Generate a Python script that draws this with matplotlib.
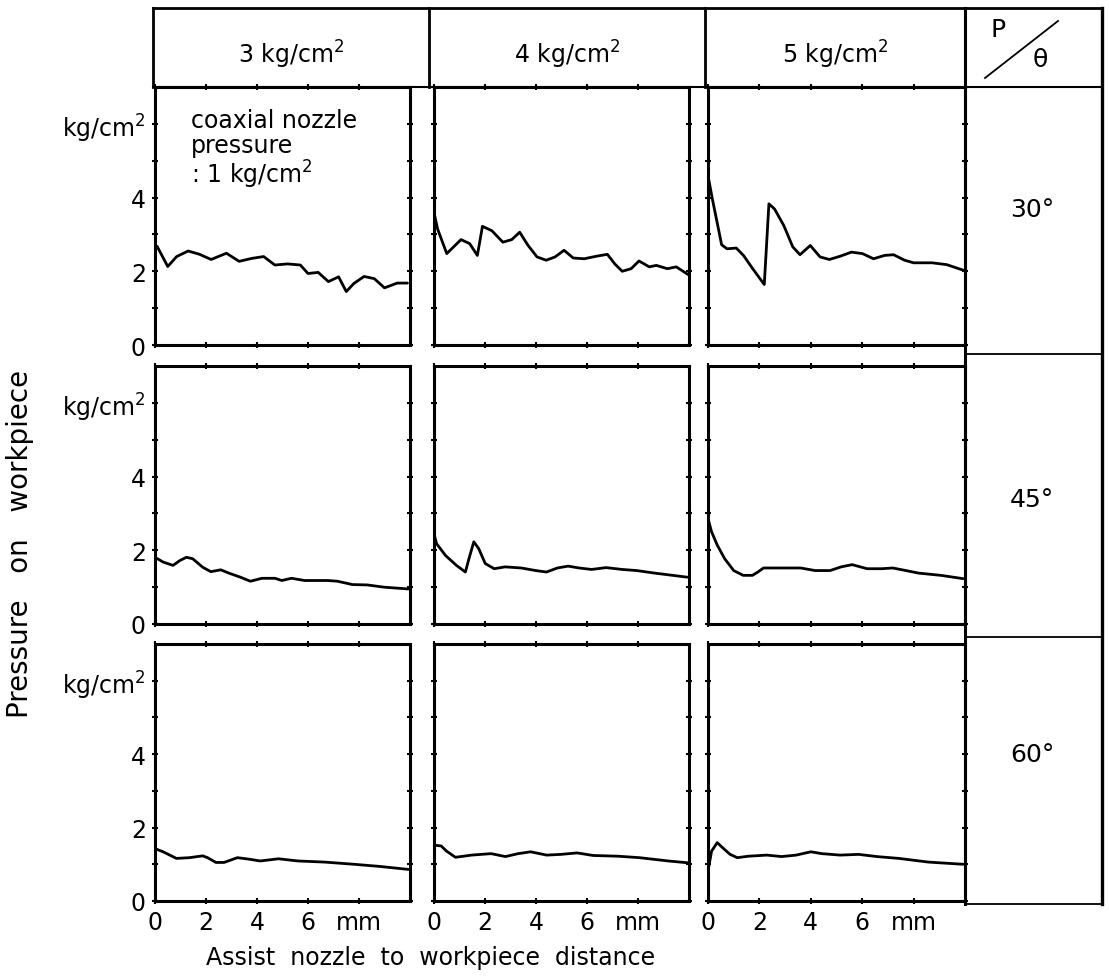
import numpy as np
import matplotlib
matplotlib.use("Agg")
import matplotlib.pyplot as plt

# --- DATA ---
col_labels = ["3 kg/cm$^2$", "4 kg/cm$^2$", "5 kg/cm$^2$"]
row_labels = ["30°", "45°", "60°"]

# theta = 30 deg
x_30_3 = [0.08, 0.5, 0.85, 1.3, 1.75, 2.2, 2.8, 3.3, 3.8, 4.26, 4.7, 5.2, 5.7, 6.0, 6.4, 6.8, 7.2, 7.5, 7.8, 8.2, 8.6, 9.0, 9.5, 9.9]
p_30_3 = [2.68, 2.13, 2.4, 2.55, 2.46, 2.32, 2.49, 2.27, 2.35, 2.4, 2.17, 2.2, 2.17, 1.94, 1.97, 1.72, 1.85, 1.45, 1.67, 1.86, 1.8, 1.55, 1.68, 1.68]

x_30_4 = [0.0, 0.14, 0.5, 1.06, 1.4, 1.7, 1.9, 2.27, 2.7, 3.05, 3.36, 3.69, 4.04, 4.4, 4.75, 5.1, 5.46, 5.89, 6.38, 6.8, 7.09, 7.38, 7.73, 8.04, 8.44, 8.72, 9.15, 9.5, 9.97]
p_30_4 = [3.6, 3.15, 2.48, 2.86, 2.75, 2.43, 3.22, 3.1, 2.79, 2.86, 3.06, 2.7, 2.39, 2.3, 2.39, 2.57, 2.36, 2.34, 2.41, 2.46, 2.2, 2.0, 2.07, 2.28, 2.12, 2.16, 2.07, 2.12, 1.91]

x_30_5 = [0.0, 0.17, 0.38, 0.53, 0.74, 1.1, 1.38, 1.74, 2.19, 2.37, 2.59, 2.95, 3.3, 3.58, 3.98, 4.36, 4.72, 5.15, 5.58, 6.01, 6.44, 6.87, 7.22, 7.65, 8.0, 8.72, 9.29, 9.93]
p_30_5 = [4.6, 3.96, 3.24, 2.72, 2.61, 2.63, 2.43, 2.07, 1.64, 3.83, 3.69, 3.24, 2.66, 2.45, 2.7, 2.39, 2.32, 2.41, 2.52, 2.48, 2.34, 2.43, 2.45, 2.3, 2.23, 2.23, 2.18, 2.03]

# theta = 45 deg
x_45_3 = [0.0, 0.32, 0.71, 0.97, 1.23, 1.48, 1.87, 2.19, 2.58, 2.9, 3.35, 3.74, 4.19, 4.71, 4.97, 5.35, 5.87, 6.77, 7.16, 7.74, 8.32, 8.97, 9.94]
p_45_3 = [1.81, 1.68, 1.59, 1.72, 1.81, 1.77, 1.54, 1.42, 1.47, 1.38, 1.27, 1.16, 1.24, 1.24, 1.18, 1.24, 1.18, 1.18, 1.16, 1.07, 1.06, 1.0, 0.95]

x_45_4 = [0.0, 0.1, 0.45, 0.88, 1.23, 1.37, 1.56, 1.75, 2.01, 2.36, 2.79, 3.42, 3.99, 4.41, 4.84, 5.26, 5.69, 6.18, 6.75, 7.38, 7.95, 8.66, 9.36, 9.93]
p_45_4 = [2.45, 2.18, 1.86, 1.59, 1.41, 1.77, 2.23, 2.05, 1.64, 1.5, 1.55, 1.52, 1.45, 1.41, 1.52, 1.57, 1.52, 1.48, 1.53, 1.48, 1.45, 1.38, 1.32, 1.27]

x_45_5 = [0.0, 0.14, 0.36, 0.65, 1.0, 1.37, 1.73, 1.94, 2.16, 2.73, 3.6, 4.17, 4.75, 5.18, 5.61, 6.19, 6.76, 7.19, 7.7, 8.2, 9.06, 9.93]
p_45_5 = [2.86, 2.5, 2.14, 1.77, 1.45, 1.32, 1.32, 1.41, 1.52, 1.52, 1.52, 1.45, 1.45, 1.55, 1.61, 1.5, 1.5, 1.52, 1.45, 1.38, 1.32, 1.23]

# theta = 60 deg
x_60_3 = [0.06, 0.32, 0.84, 1.35, 1.87, 2.06, 2.39, 2.71, 3.23, 3.68, 4.13, 4.84, 5.61, 6.65, 7.81, 8.84, 9.94]
p_60_3 = [1.41, 1.34, 1.16, 1.18, 1.23, 1.18, 1.05, 1.05, 1.18, 1.14, 1.09, 1.15, 1.09, 1.06, 1.0, 0.94, 0.86]

x_60_4 = [0.0, 0.28, 0.49, 0.84, 1.47, 2.24, 2.8, 3.3, 3.79, 4.42, 4.98, 5.61, 6.24, 7.22, 8.06, 9.19, 9.96]
p_60_4 = [1.52, 1.5, 1.36, 1.19, 1.25, 1.29, 1.21, 1.29, 1.34, 1.25, 1.27, 1.31, 1.24, 1.22, 1.18, 1.09, 1.04]

x_60_5 = [0.0, 0.14, 0.36, 0.57, 0.86, 1.14, 1.57, 2.29, 2.86, 3.43, 4.0, 4.43, 5.14, 5.86, 6.57, 7.43, 8.57, 9.93]
p_60_5 = [0.82, 1.36, 1.59, 1.45, 1.27, 1.18, 1.22, 1.25, 1.21, 1.25, 1.34, 1.29, 1.25, 1.27, 1.21, 1.16, 1.06, 1.0]

curves = [
    [(x_30_3, p_30_3), (x_30_4, p_30_4), (x_30_5, p_30_5)],
    [(x_45_3, p_45_3), (x_45_4, p_45_4), (x_45_5, p_45_5)],
    [(x_60_3, p_60_3), (x_60_4, p_60_4), (x_60_5, p_60_5)],
]

# --- LAYOUT (pixels of the 1109x978 picture) ---
W, H = 1109, 978
col_x = [(155, 410), (434, 689), (708, 965)]
row_y = [(88, 346), (367, 625), (645, 902)]
head_top, head_bot = 9, 88
head_div = [153, 429, 705, 965, 1102]
tab_right = 1102
tab_rows = [88, 355, 638, 905]

FS = 17
plt.rcParams['font.family'] = ['DejaVu Sans']
plt.rcParams['mathtext.default'] = 'regular'

fig = plt.figure(figsize=(W / 100, H / 100), dpi=100)

def fig_rect(x0, x1, y0, y1):
    return [x0 / W, 1 - y1 / H, (x1 - x0) / W, (y1 - y0) / H]

for r in range(3):
    for c in range(3):
        ax = fig.add_axes(fig_rect(col_x[c][0], col_x[c][1], row_y[r][0], row_y[r][1]))
        xs, ps = curves[r][c]
        ax.plot(xs, ps, color='black', lw=2.0, solid_joinstyle='round',
                solid_capstyle='round')
        ax.set_xlim(0, 10)
        ax.set_ylim(0, 7)
        ax.set_xticks([0, 2, 4, 6, 8])
        ax.set_yticks([0, 1, 2, 3, 4, 5, 6])
        ax.tick_params(direction='inout', length=5, width=1.5, top=True, right=True,
                       labelsize=FS, pad=4)
        for s in ax.spines.values():
            s.set_linewidth(2.2)
        if r == 2:
            ax.set_xticklabels(['0', '2', '4', '6', 'mm'])
        else:
            ax.set_xticklabels([])
        if c == 0:
            ax.set_yticklabels(['0', '', '2', '', '4', '', 'kg/cm$^2$'])
        else:
            ax.set_yticklabels([])
        if r == 0 and c == 0:
            ax.text(0.14, 0.92, "coaxial nozzle\npressure\n: 1 kg/cm$^2$",
                    transform=ax.transAxes, fontsize=FS, va='top', ha='left',
                    linespacing=1.05)

# header boxes and right-hand table
ov = fig.add_axes([0, 0, 1, 1], zorder=10)
ov.set_xlim(0, W)
ov.set_ylim(H, 0)
ov.axis('off')
ov.plot([head_div[0], tab_right], [head_top, head_top], color='black', lw=2.0)
ov.plot([head_div[0], tab_right], [head_bot, head_bot], color='black', lw=1.5)
for xd in head_div[:-1]:
    ov.plot([xd, xd], [head_top, head_bot], color='black', lw=2.0)
ov.plot([965, 965], [head_top, tab_rows[-1]], color='black', lw=2.2)
ov.plot([tab_right, tab_right], [head_top, tab_rows[-1]], color='black', lw=2.4)
for yr in tab_rows[1:]:
    ov.plot([965, tab_right], [yr, yr], color='black', lw=1.3)

for i, lab in enumerate(col_labels):
    ov.text((head_div[i] + head_div[i + 1]) / 2, 55, lab, fontsize=FS,
            ha='center', va='center')
ov.plot([985, 1058], [79, 22], color='black', lw=1.3)
ov.text(998, 30, "P", fontsize=FS + 1, ha='center', va='center')
ov.text(1040, 60, "θ", fontsize=FS + 1, ha='center', va='center')

cell_mid = [210, 500, 755]
for lab, ym in zip(row_labels, cell_mid):
    ov.text(1032, ym, lab, fontsize=FS + 1, ha='center', va='center')

fig.text(20 / W, 1 - 544 / H, "Pressure   on   workpiece", rotation=90,
         fontsize=FS + 3, ha='center', va='center')
fig.text(431 / W, 1 - 958 / H, "Assist  nozzle  to  workpiece  distance",
         fontsize=FS, ha='center', va='center')

fig.savefig("out.png", dpi=100, facecolor='white')
